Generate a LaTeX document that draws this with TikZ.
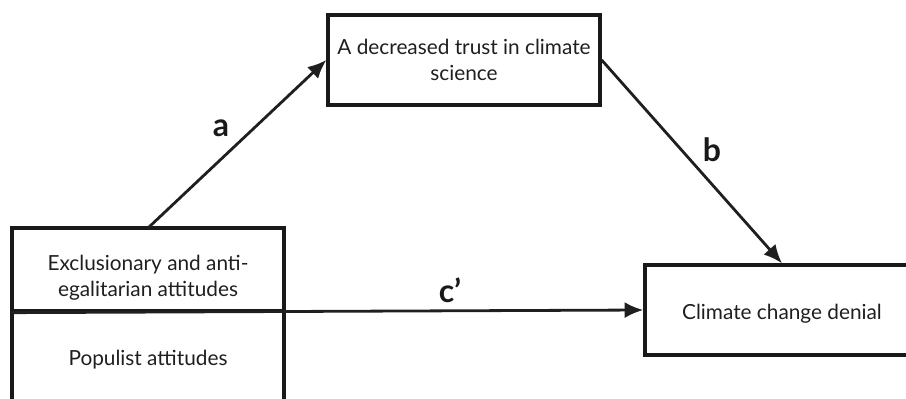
\documentclass[tikz,border=0pt]{standalone}
\usepackage{fontspec}
\setmainfont{Lato}
\usetikzlibrary{arrows.meta}
\begin{document}
\begin{tikzpicture}[x=0.75pt,y=-0.75pt,
  txt/.style={align=center,text=black!88,font=\fontsize{15.6}{19.5}\selectfont,inner sep=0pt},
  box/.style={draw=black!90,line width=2.5pt,inner sep=0pt,txt},
  conn/.style={draw=black!88,line width=2.1pt,-{Latex[length=14pt,width=12pt]}},
  lbl/.style={font=\fontsize{24}{26}\selectfont\bfseries,text=black!90,inner sep=0pt}]
\useasboundingbox (0,0) rectangle (906,399);
\clip (0,0) rectangle (906,399);
\node[box,minimum width=272*0.75pt,minimum height=90*0.75pt] (trust) at (464,60) {A decreased trust in climate\\science};
\node[box,minimum width=272*0.75pt,minimum height=83*0.75pt,
  label={[txt,yshift=-6pt]center:Exclusionary and anti-\\egalitarian attitudes}] (excl) at (148,269.5) {};
\node[box,minimum width=272*0.75pt,minimum height=92*0.75pt,
  label={[txt,yshift=-2pt]center:Populist attitudes}] (pop) at (148,357) {};
\node[box,minimum width=274*0.75pt,minimum height=90*0.75pt,
  label={[txt,yshift=-3pt]center:Climate change denial}] (deny) at (782,310) {};
\coordinate (astart) at (148,228);
\draw[conn] (astart) -- (trust.west);
\draw[conn] (trust.east) -- (deny.north);
\draw[conn] (excl.south west) -- (deny.west);
\node[lbl] (la) at (221,128) {a};
\node[lbl] (lb) at (712,150) {b};
\node[lbl] (lc) at (450,290) {c’};
\end{tikzpicture}
\end{document}
